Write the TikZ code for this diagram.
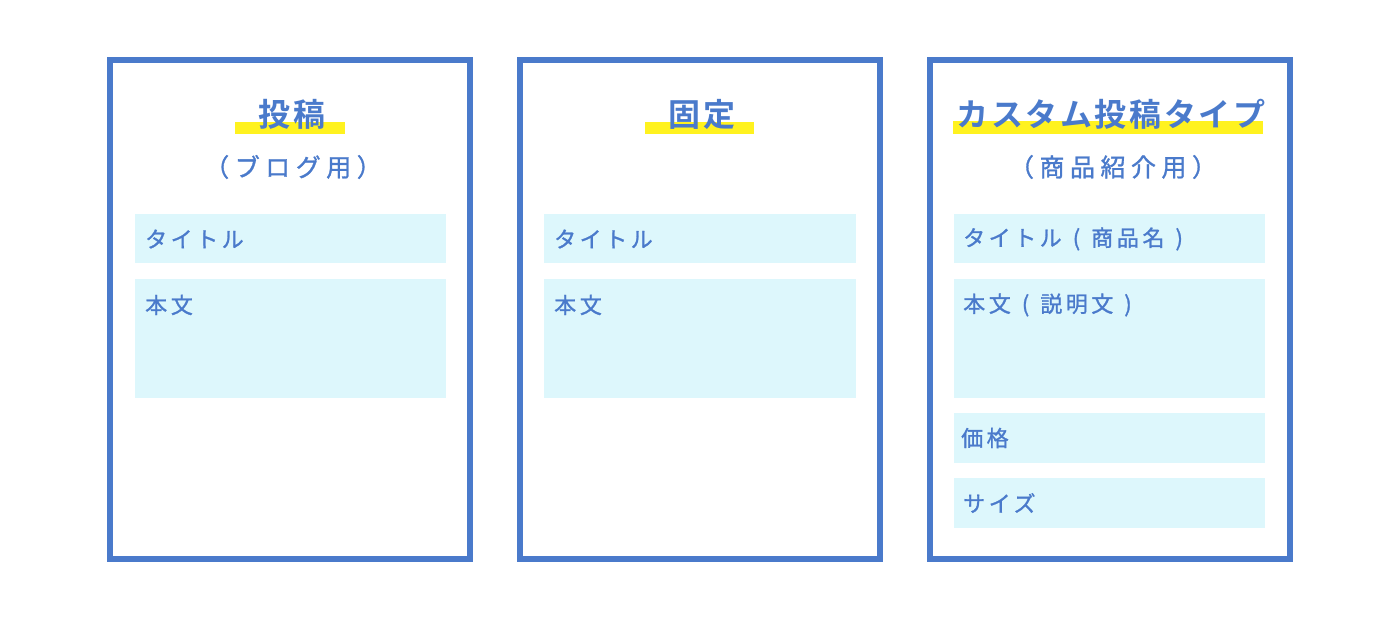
\documentclass[tikz,border=0pt]{standalone}
\usepackage{fontspec}
\newfontfamily\jpb[LetterSpace=8]{Noto Sans CJK JP Bold}
\newfontfamily\jp[LetterSpace=16,FakeBold=1.2]{Noto Sans CJK JP}
\newfontfamily\jps[LetterSpace=22,FakeBold=1.2]{Noto Sans CJK JP}
\definecolor{pblue}{HTML}{4A7ACB}
\definecolor{pfill}{HTML}{DDF7FC}
\definecolor{pyel}{HTML}{FFF21F}
\tikzset{
  panel/.style={draw=pblue, line width=6pt, fill=white},
  field/.style={fill=pfill, draw=none},
  hl/.style={fill=pyel, draw=none},
  ttl/.style={text=pblue, font=\jpb\fontsize{32}{34}\selectfont, inner sep=0pt},
  sub/.style={text=pblue, font=\jps\fontsize{25}{28}\selectfont, inner sep=0pt},
  lbl/.style={text=pblue, font=\jp\fontsize{22}{24}\selectfont, inner sep=0pt, anchor=west},
}
\begin{document}
\begin{tikzpicture}[x=1pt,y=-1pt]
\useasboundingbox (0,0) rectangle (1400,620);
% panels
\draw[panel] (110,60) rectangle (470,559);
\draw[panel] (520,60) rectangle (880,559);
\draw[panel] (930,60) rectangle (1290,559);
% highlight bars
\fill[hl] (235,122) rectangle (345,134);
\fill[hl] (645,122) rectangle (754,134);
\fill[hl] (953,121) rectangle (1263,134);
% titles
\node[ttl] (t1) at (292,114) {投稿};
\node[ttl] (t2) at (702,114) {固定};
\node[ttl] (t3) at (1111,114) {カスタム投稿タイプ};
\node[sub] (s1) at (293,167) {（ブログ用）};
\node[sub] (s3) at (1113,167) {（商品紹介用）};
% fields left
\fill[field] (135,214) rectangle (446,263);
\fill[field] (135,279) rectangle (446,398);
\node[lbl] (l1a) at (145,239) {タイトル};
\node[lbl] (l1b) at (145,305) {本\,文};
% fields middle
\fill[field] (544,214) rectangle (856,263);
\fill[field] (544,279) rectangle (856,398);
\node[lbl] (l2a) at (554,239) {タイトル};
\node[lbl] (l2b) at (554,305) {本\,文};
% fields right
\fill[field] (954,214) rectangle (1265,263);
\fill[field] (954,279) rectangle (1265,398);
\fill[field] (954,413) rectangle (1265,463);
\fill[field] (954,478) rectangle (1265,528);
\node[lbl] (l3a) at (963,239) {タイトル\enspace(\enspace 商\,品\,名\enspace)};
\node[lbl] (l3b) at (963,305) {本\,文\enspace(\enspace 説明文\enspace)};
\node[lbl] (l3c) at (961,438) {価格};
\node[lbl] (l3d) at (963,503) {サイズ};
\end{tikzpicture}
\end{document}
